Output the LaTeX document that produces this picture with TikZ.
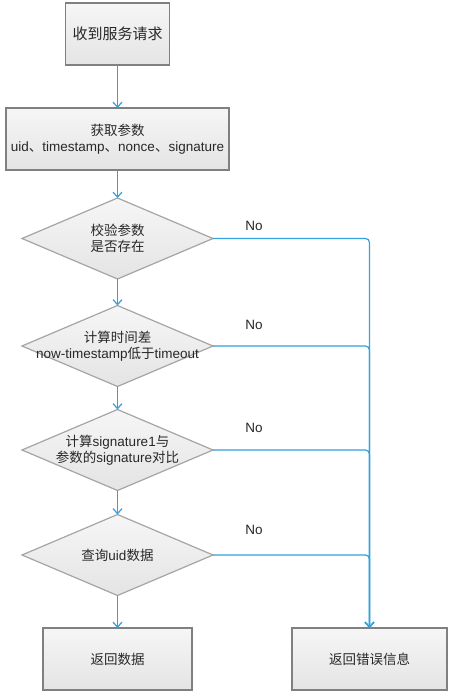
\documentclass[tikz,border=0pt]{standalone}
\usepackage{fontspec}
\setmainfont{Liberation Sans}
\newfontfamily\cjk{Noto Sans CJK SC}
\usetikzlibrary{arrows.meta,shapes.geometric}
\definecolor{flow}{RGB}{52,160,222}
\definecolor{boxline}{RGB}{128,128,128}
\definecolor{dialine}{RGB}{165,165,165}
\definecolor{boxtop}{RGB}{246,246,246}
\definecolor{boxbot}{RGB}{228,228,228}
\definecolor{txt}{RGB}{40,40,40}
\tikzset{
  box/.style={draw=boxline, line width=1.3pt, top color=boxtop, bottom color=boxbot,
    minimum width=#1, minimum height=62pt, inner sep=0pt, outer sep=0pt,
    align=center, text=txt, font=\fontsize{13.5}{16}\selectfont},
  dia/.style={shape=diamond, draw=dialine, line width=1.2pt, top color=boxtop, bottom color=boxbot,
    minimum width=191pt, minimum height=81pt, inner sep=0pt, outer sep=0pt},
  dtext/.style={align=center, text=txt, font=\fontsize{13.5}{16}\selectfont, inner sep=0pt},
  flowline/.style={draw=flow, line width=1.2pt, -{Straight Barb[length=5pt,width=9pt,line width=1.2pt]}},
  nolab/.style={text=txt, font=\fontsize{13.5}{16}\selectfont, inner sep=0pt}
}
\begin{document}
\begin{tikzpicture}[x=1pt,y=-1pt]
\path[fill=white] (0,0) rectangle (450,696);
\useasboundingbox (0,0) rectangle (450,696);

\node[box=104pt, font=\fontsize{15}{18}\selectfont] (b1) at (117.5,34) {\cjk 收到服务请求};
\node[box=223pt] (b2) at (117.5,139) {{\cjk 获取参数}\\uid{\cjk 、}timestamp{\cjk 、}nonce{\cjk 、}signature};

\node[dia] (d1) at (117.5,238.5) {};
\node[dtext] (t1) at (d1) {{\cjk 校验参数}\\{\cjk 是否存在}};
\node[dia] (d2) at (117.5,346) {};
\node[dtext] (t2) at (d2) {{\cjk 计算时间差}\\now-timestamp{\cjk 低于}timeout};
\node[dia] (d3) at (117.5,450) {};
\node[dtext] (t3) at (d3) {{\cjk 计算}signature1{\cjk 与}\\{\cjk 参数的}signature{\cjk 对比}};
\node[dia] (d4) at (117.5,555) {};
\node[dtext] (t4) at (d4) {{\cjk 查询}uid{\cjk 数据}};

\node[box=149pt] (b5) at (117.5,659) {\cjk 返回数据};
\node[box=155pt] (b6) at (369.5,659) {\cjk 返回错误信息};

\draw[flowline] (b1.south) -- (b2.north);
\draw[flowline] (b2.south) -- (d1.north);
\draw[flowline] (d1.south) -- (d2.north);
\draw[flowline] (d2.south) -- (d3.north);
\draw[flowline] (d3.south) -- (d4.north);
\draw[flowline] (d4.south) -- (b5.north);

\draw[flowline, rounded corners=4pt] (d1.east) -| (b6.north);
\draw[flowline, rounded corners=4pt] (d2.east) -| (b6.north);
\draw[flowline, rounded corners=4pt] (d3.east) -| (b6.north);
\draw[flowline, rounded corners=4pt] (d4.east) -| (b6.north);

\node[nolab] (n1) at (254,226) {No};
\node[nolab] (n2) at (254,325) {No};
\node[nolab] (n3) at (254,428) {No};
\node[nolab] (n4) at (254,530) {No};
\end{tikzpicture}
\end{document}
